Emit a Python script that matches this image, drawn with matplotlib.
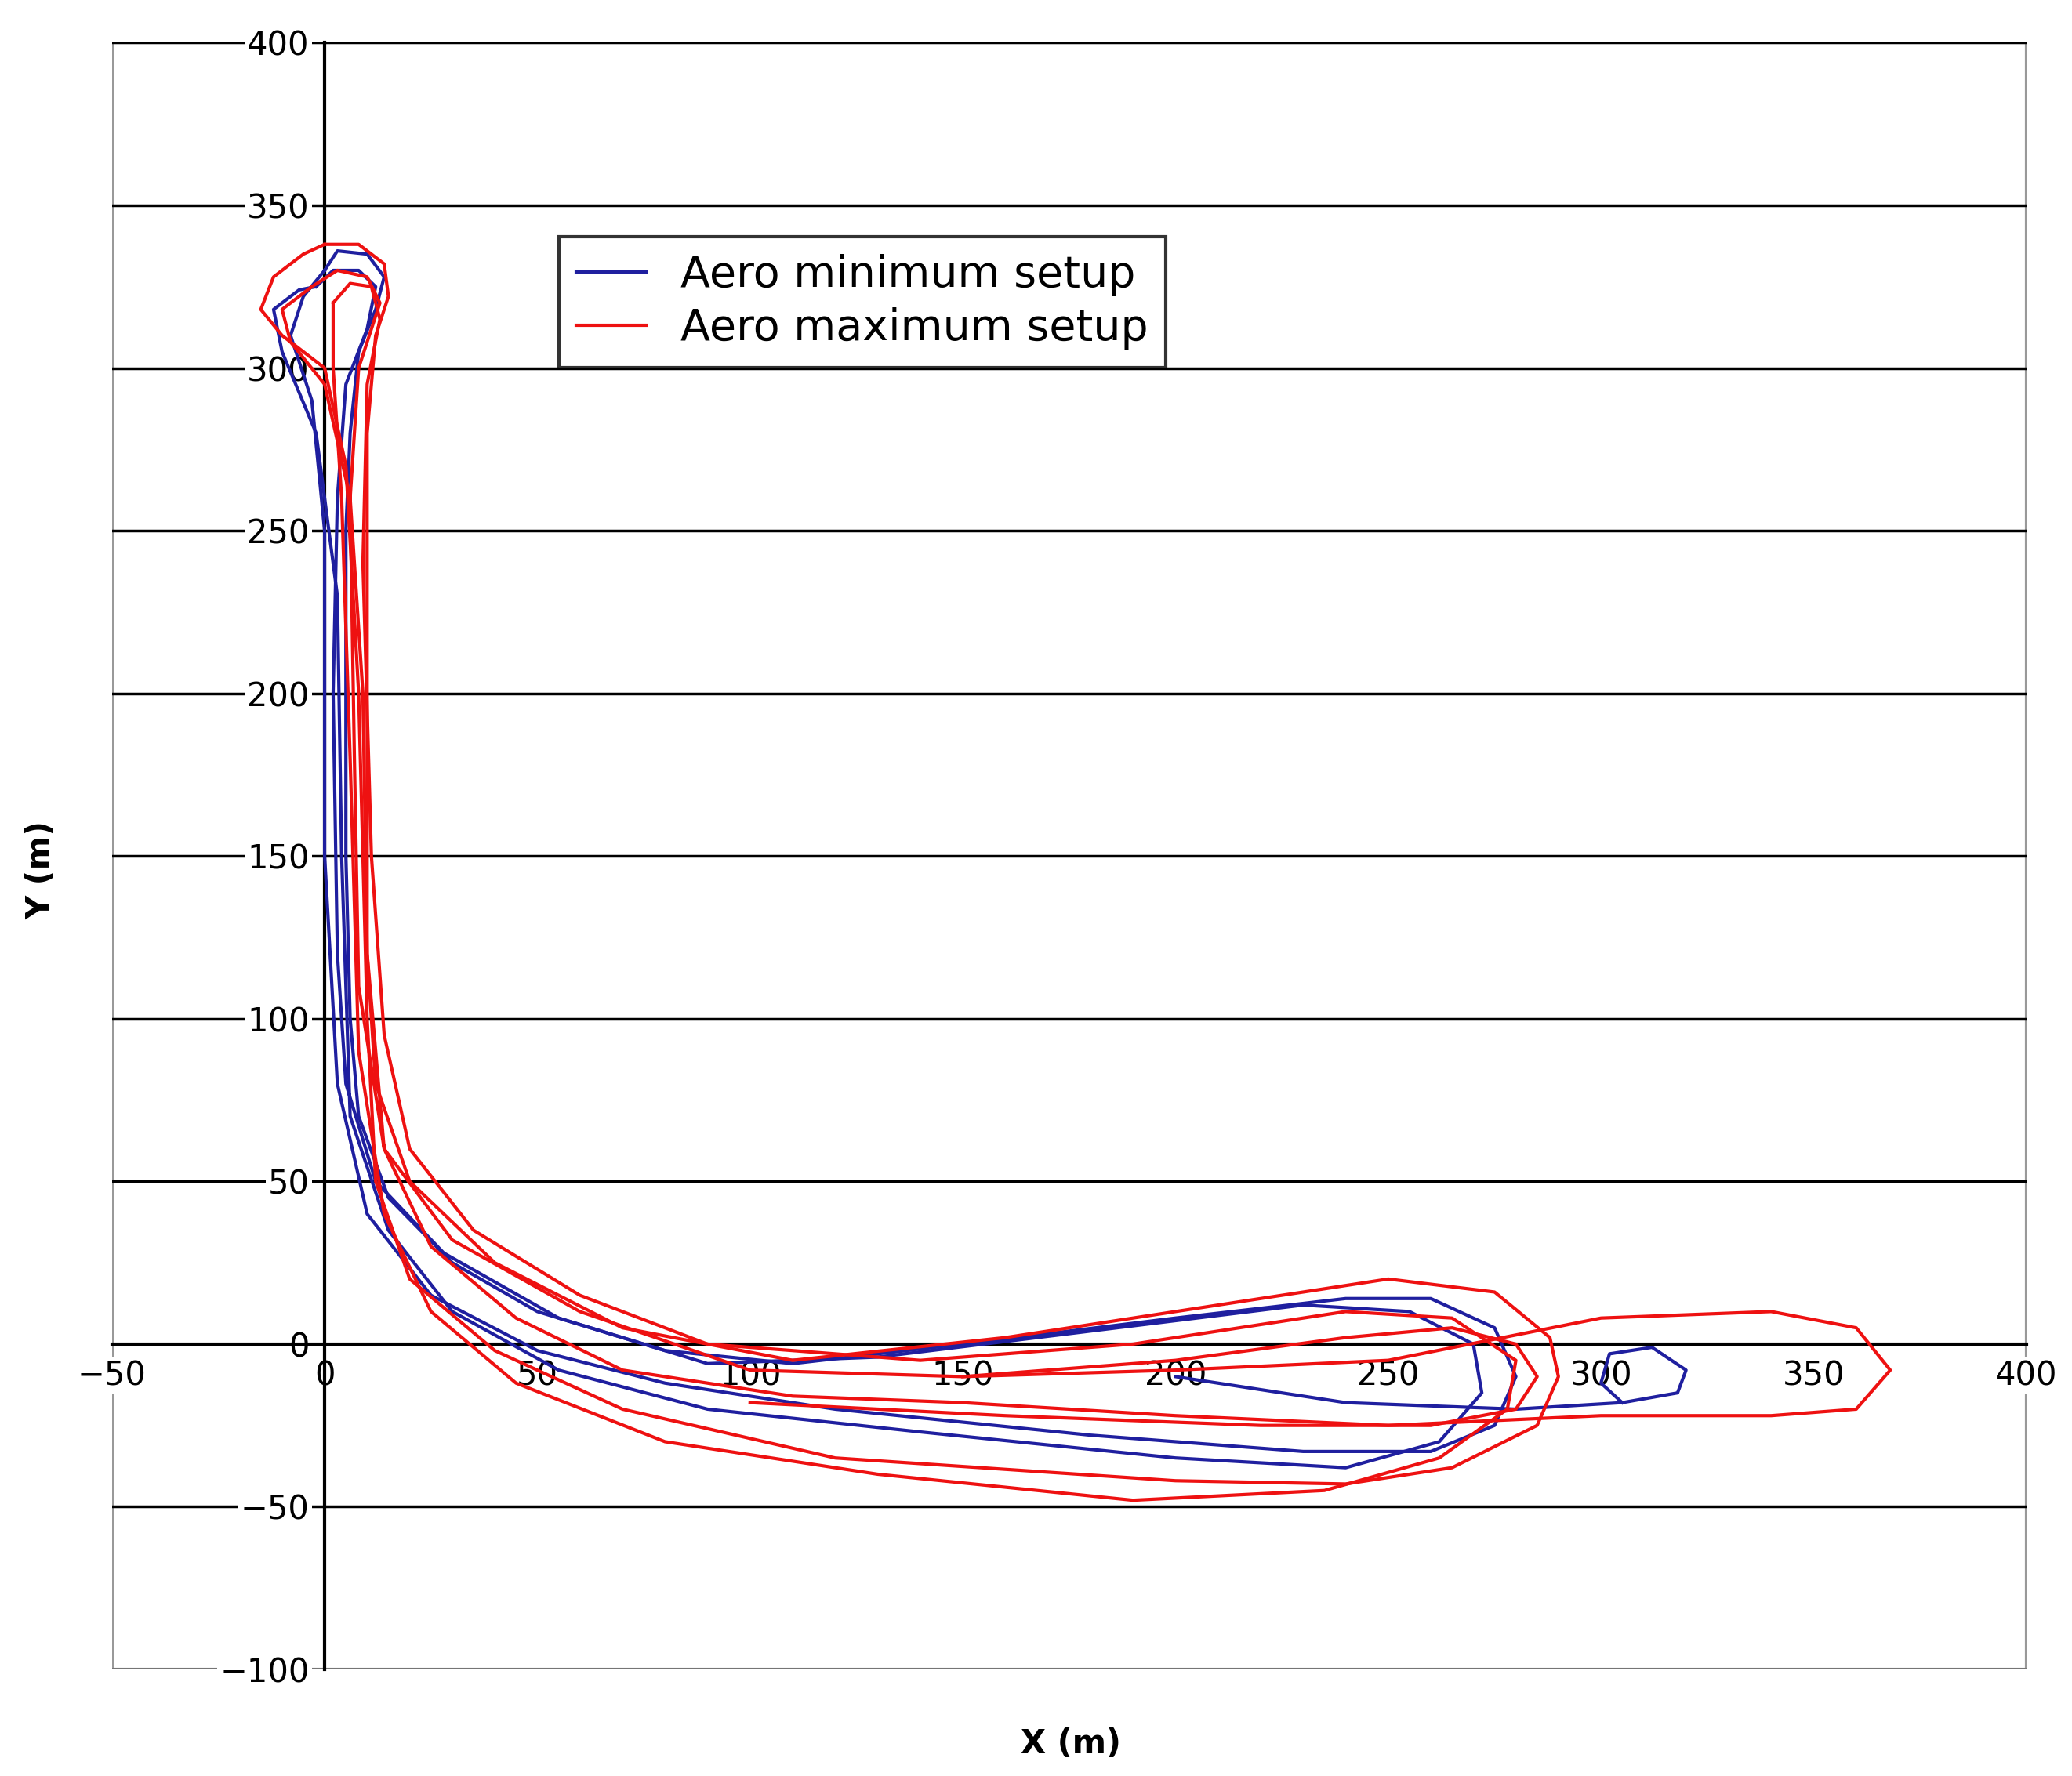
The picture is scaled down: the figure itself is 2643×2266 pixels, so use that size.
import matplotlib
matplotlib.use("Agg")
import matplotlib.pyplot as plt
from matplotlib.patches import Rectangle

blue_laps = [
    [(0,330),(3,336),(10,335),(14,328),(12,318),(8,305),(6,280),(5,250),(5,200),(5,150),(6,100),(8,70),(15,45),(30,25),(50,10),(80,-2),(110,-6),(150,0),(200,8),(240,14),(260,14),(275,5),(280,-10),(275,-25),(260,-33),(230,-33),(180,-28),(120,-20),(80,-12),(50,-2),(25,15),(10,40),(3,80),(0,150),(0,250),(-3,290),(-8,310),(-5,322),(0,330)],
    [(-2,325),(2,330),(8,330),(12,325),(10,312),(5,295),(3,260),(2,200),(3,120),(5,80),(12,50),(28,28),(55,8),(90,-6),(130,-4),(180,4),(230,12),(255,10),(270,0),(272,-15),(262,-30),(240,-38),(200,-35),(140,-27),(90,-20),(55,-8),(30,10),(15,35),(6,70),(4,150),(3,230),(-2,280),(-10,305),(-12,318),(-6,324),(-2,325)],
    [(200,-10),(240,-18),(280,-20),(305,-18),(318,-15),(320,-8),(312,-1),(302,-3),(300,-12),(305,-18)],
]
red_laps = [
    [(0,338),(8,338),(14,332),(15,322),(12,310),(10,280),(10,200),(10,120),(12,80),(20,50),(40,25),(70,5),(110,-5),(160,2),(210,12),(250,20),(275,16),(288,2),(290,-10),(285,-25),(265,-38),(240,-43),(200,-42),(120,-35),(70,-20),(40,-2),(20,20),(12,50),(10,100),(8,200),(5,270),(0,300),(-10,310),(-15,318),(-12,328),(-5,335),(0,338)],
    [(-3,325),(3,330),(10,328),(13,320),(8,300),(6,260),(7,180),(8,110),(14,60),(30,32),(60,10),(100,-8),(150,-10),(200,-8),(250,-5),(300,8),(340,10),(360,5),(368,-8),(360,-20),(340,-22),(300,-22),(250,-25),(200,-22),(150,-18),(110,-16),(70,-8),(45,8),(25,30),(14,60),(10,120),(9,200),(6,260),(0,295),(-8,308),(-10,318),(-3,325)],
    [(2,320),(6,326),(11,325),(13,315),(10,295),(9,240),(11,150),(14,95),(20,60),(35,35),(60,15),(90,0),(140,-5),(190,0),(240,10),(265,8),(280,-5),(278,-20),(262,-35),(235,-45),(190,-48),(130,-40),(80,-30),(45,-12),(25,10),(14,40),(8,90),(6,180),(4,260),(2,300),(2,320)],
    [(100,-18),(160,-22),(220,-25),(260,-25),(280,-20),(285,-10),(280,0),(265,5),(240,2),(200,-5),(150,-10)],
]

fig = plt.figure(figsize=(26.43, 22.66), dpi=100)
ax = fig.add_axes([0.054, 0.060, 0.924, 0.916])
ax.set_xlim(-50, 400)
ax.set_ylim(-100, 400)

for y in range(-100, 401, 50):
    ax.axhline(y, color="black", lw=2.5, zorder=1)

for i, lap in enumerate(blue_laps):
    xs, ys = zip(*lap)
    ax.plot(xs, ys, color="#1f1f9f", lw=3, zorder=3, label="Aero minimum setup" if i == 0 else None)
for i, lap in enumerate(red_laps):
    xs, ys = zip(*lap)
    ax.plot(xs, ys, color="#ee1111", lw=3, zorder=4, label="Aero maximum setup" if i == 0 else None)

ax.spines["left"].set_position(("data", 0))
ax.spines["bottom"].set_position(("data", 0))
for s in ["left", "bottom"]:
    ax.spines[s].set_color("black"); ax.spines[s].set_linewidth(3)
for s in ["top", "right"]:
    ax.spines[s].set_visible(False)
ax.add_patch(Rectangle((0, 0), 1, 1, transform=ax.transAxes, fill=False, ec="#999999", lw=3, zorder=0))

ax.set_xticks(range(-50, 401, 50))
ax.set_yticks(range(-100, 401, 50))
ax.tick_params(length=0, labelsize=30, pad=14)
for t in ax.get_yticklabels() + ax.get_xticklabels():
    t.set_bbox(dict(facecolor="white", edgecolor="none", pad=2))
    t.set_zorder(5)

fig.text(0.02, 0.51, "Y (m)", rotation=90, fontsize=30, fontweight="bold", va="center", ha="center")
fig.text(0.517, 0.018, "X (m)", fontsize=30, fontweight="bold", ha="center", va="center")

leg = ax.legend(loc="upper left", bbox_to_anchor=(0.222, 0.894), fontsize=40, frameon=True,
                fancybox=False, edgecolor="black", handlelength=1.6, borderpad=0.4, labelspacing=0.25)
leg.get_frame().set_linewidth(3)
leg.set_zorder(10)

fig.savefig("out.png", dpi=100)
